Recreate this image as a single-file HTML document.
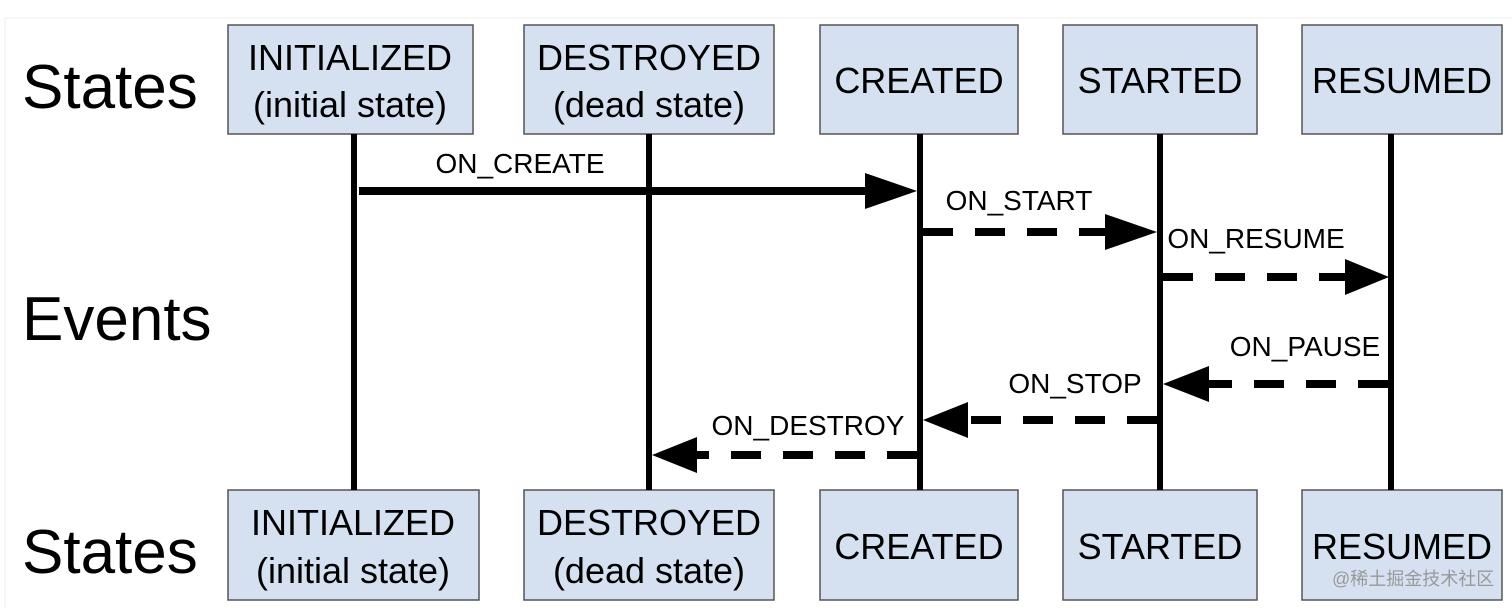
<!DOCTYPE html>
<html><head><meta charset="utf-8"><style>
html,body{margin:0;padding:0;background:#fff;}
svg{display:block;}
text{font-family:"Liberation Sans",sans-serif;fill:#000;}
</style></head><body>
<svg width="1512" height="608" viewBox="0 0 1512 608" xmlns="http://www.w3.org/2000/svg">
<rect x="5" y="18" width="1510" height="595" fill="#fff" stroke="#eee" stroke-width="1"/>
<g fill="#d5e1f0" stroke="#555" stroke-width="1.5">
<rect x="228" y="25" width="245" height="109"/>
<rect x="524" y="25" width="250" height="109"/>
<rect x="820" y="25" width="198" height="109"/>
<rect x="1063" y="25" width="194" height="109"/>
<rect x="1302" y="25" width="200" height="109"/>
<rect x="228" y="490" width="251" height="110"/>
<rect x="524" y="490" width="250" height="110"/>
<rect x="820" y="490" width="198" height="110"/>
<rect x="1063" y="490" width="194" height="110"/>
<rect x="1302" y="490" width="200" height="110"/>
</g>
<g stroke="#000" stroke-width="6">
<line x1="354" y1="134" x2="354" y2="490"/>
<line x1="649" y1="134" x2="649" y2="490"/>
<line x1="920" y1="134" x2="920" y2="490"/>
<line x1="1160" y1="134" x2="1160" y2="490"/>
<line x1="1391" y1="134" x2="1391" y2="490"/>
</g>
<g stroke="#000" stroke-width="8">
<line x1="359" y1="191" x2="870" y2="191"/>
</g>
<g stroke="#000" stroke-width="8" stroke-dasharray="30 22">
<line x1="923" y1="232" x2="1115" y2="232"/>
<line x1="1163" y1="277" x2="1350" y2="277"/>
<line x1="1388" y1="384" x2="1205" y2="384"/>
<line x1="1157" y1="420" x2="965" y2="420"/>
<line x1="917" y1="455" x2="690" y2="455"/>
</g>
<g fill="#000">
<polygon points="865,173 917,191 865,209"/>
<polygon points="1105,214 1157,232 1105,250"/>
<polygon points="1345,259 1389,277 1345,295"/>
<polygon points="1209,366 1163,384 1209,402"/>
<polygon points="968,402 923,420 968,438"/>
<polygon points="697,437 652,455 697,473"/>
</g>
<g font-size="28" text-anchor="middle">
<text x="520" y="173">ON_CREATE</text>
<text x="1019" y="210">ON_START</text>
<text x="1256" y="248">ON_RESUME</text>
<text x="1305" y="356">ON_PAUSE</text>
<text x="1075" y="393">ON_STOP</text>
<text x="808" y="435">ON_DESTROY</text>
</g>
<g font-size="62">
<text x="22" y="108">States</text>
<text x="22" y="340">Events</text>
<text x="22" y="573">States</text>
</g>
<g font-size="36" text-anchor="middle">
<text x="350" y="70">INITIALIZED</text>
<text x="350" y="117">(initial state)</text>
<text x="649" y="70">DESTROYED</text>
<text x="649" y="117">(dead state)</text>
<text x="919" y="93">CREATED</text>
<text x="1160" y="93">STARTED</text>
<text x="1402" y="93">RESUMED</text>
<text x="353" y="535">INITIALIZED</text>
<text x="353" y="583">(initial state)</text>
<text x="649" y="535">DESTROYED</text>
<text x="649" y="583">(dead state)</text>
<text x="919" y="559">CREATED</text>
<text x="1160" y="559">STARTED</text>
<text x="1402" y="559">RESUMED</text>
</g>
<text x="1332" y="585" font-size="18" fill="#999" style="fill:#999;font-family:'Liberation Sans','Noto Sans CJK SC',sans-serif">@稀土掘金技术社区</text>
</svg>
</body></html>
